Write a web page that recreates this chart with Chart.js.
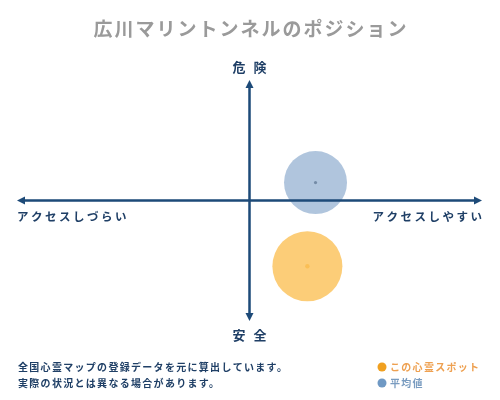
<!DOCTYPE html>
<html lang="ja">
<head>
<meta charset="utf-8">
<title>広川マリントンネルのポジション</title>
<script src="https://cdn.jsdelivr.net/npm/chart.js@4/dist/chart.umd.min.js"></script>
<style>
  html, body { margin: 0; padding: 0; background: #ffffff; }
  #wrap { width: 500px; height: 400px; }
</style>
</head>
<body>
<div id="wrap"><canvas id="positionChart" width="500" height="400"></canvas></div>
<script>
// ── Data ───────────────────────────────────────────────────────────────────
const TITLE = "広川マリントンネルのポジション";
const AXIS_LABELS = ["危険", "安全", "アクセスしづらい", "アクセスしやすい"];
const SERIES_NAMES = ["この心霊スポット", "平均値"];
const SPOT_X = [24.9];
const SPOT_Y = [-54.6];
const SPOT_R = [35];
const AVG_X = [28.4];
const AVG_Y = [14.9];
const AVG_R = [31.5];
const NOTES = [
  "全国心霊マップの登録データを元に算出しています。",
  "実際の状況とは異なる場合があります。",
];

// ── Theme ──────────────────────────────────────────────────────────────────
const FONT = "'Noto Sans CJK JP', 'Noto Sans', sans-serif";
const COLORS = {
  axis:      "#1d4a78",
  title:     "#9a9a9a",
  label:     "#1f3f66",
  spot:      "rgba(252, 196, 96, 0.85)",
  spotDot:   "#f0a020",
  spotText:  "#eea050",
  avg:       "rgba(150, 178, 210, 0.75)",
  avgDot:    "#111c28",
  avgText:   "#7a9cc0",
};

function toPoints(xs, ys, rs) {
  return xs.map((x, i) => ({ x, y: ys[i], r: rs[i] }));
}

function spacedText(ctx, text, x, y, spacing, align) {
  ctx.save();
  if ("letterSpacing" in ctx) {
    ctx.letterSpacing = spacing + "px";
    let w = ctx.measureText(text).width - spacing;
    let sx = align === "center" ? x - w / 2 : align === "right" ? x - w : x;
    ctx.textAlign = "left";
    ctx.fillText(text, sx, y);
  } else {
    ctx.textAlign = align;
    ctx.fillText(text, x, y);
  }
  ctx.restore();
}

// ── Axes with arrows ───────────────────────────────────────────────────────
const quadrantAxes = {
  id: "quadrantAxes",
  afterDatasetsDraw(chart) {
    const { ctx, chartArea, scales } = chart;
    const cx = scales.x.getPixelForValue(0);
    const cy = scales.y.getPixelForValue(0);
    const head = 8, half = 4;
    ctx.save();
    ctx.strokeStyle = COLORS.axis;
    ctx.fillStyle = COLORS.axis;
    ctx.lineWidth = 2.5;
    ctx.beginPath();
    ctx.moveTo(chartArea.left + 3, cy);
    ctx.lineTo(chartArea.right - 3, cy);
    ctx.moveTo(cx, chartArea.top + 3);
    ctx.lineTo(cx, chartArea.bottom - 3);
    ctx.stroke();
    const tri = (a, b, c) => {
      ctx.beginPath();
      ctx.moveTo(a[0], a[1]); ctx.lineTo(b[0], b[1]); ctx.lineTo(c[0], c[1]);
      ctx.closePath(); ctx.fill();
    };
    tri([chartArea.left, cy], [chartArea.left + head, cy - half], [chartArea.left + head, cy + half]);
    tri([chartArea.right, cy], [chartArea.right - head, cy - half], [chartArea.right - head, cy + half]);
    tri([cx, chartArea.top], [cx - half, chartArea.top + head], [cx + half, chartArea.top + head]);
    tri([cx, chartArea.bottom], [cx - half, chartArea.bottom - head], [cx + half, chartArea.bottom - head]);
    ctx.restore();
  },
  afterDraw(chart) {
    const { ctx, chartArea, scales } = chart;
    const cx = scales.x.getPixelForValue(0);
    const cy = scales.y.getPixelForValue(0);
    ctx.save();
    ctx.textBaseline = "middle";

    // title
    ctx.fillStyle = COLORS.title;
    ctx.font = "bold 19px " + FONT;
    spacedText(ctx, TITLE, 250, 29, 2, "center");

    // axis captions
    ctx.fillStyle = COLORS.label;
    ctx.font = "bold 13px " + FONT;
    spacedText(ctx, AXIS_LABELS[0], cx, chartArea.top - 13, 8, "center");
    spacedText(ctx, AXIS_LABELS[1], cx, chartArea.bottom + 14, 8, "center");
    ctx.font = "bold 11.5px " + FONT;
    spacedText(ctx, AXIS_LABELS[2], chartArea.left, cy + 16, 2.5, "left");
    spacedText(ctx, AXIS_LABELS[3], chartArea.right, cy + 16, 2.5, "right");

    // footnotes
    ctx.font = "bold 10px " + FONT;
    spacedText(ctx, NOTES[0], 18, 367, 1.3, "left");
    spacedText(ctx, NOTES[1], 18, 383, 1.3, "left");

    // legend
    const legend = [
      [SERIES_NAMES[0], COLORS.spotDot, COLORS.spotText, 367],
      [SERIES_NAMES[1], "#6f99c4", COLORS.avgText, 383],
    ];
    legend.forEach(([name, dot, txt, y]) => {
      ctx.fillStyle = dot;
      ctx.beginPath();
      ctx.arc(382, y, 4.5, 0, Math.PI * 2);
      ctx.fill();
      ctx.fillStyle = txt;
      ctx.font = "bold 10px " + FONT;
      spacedText(ctx, name, 390, y, 1.3, "left");
    });
    ctx.restore();
  },
};

// ── Chart ──────────────────────────────────────────────────────────────────
new Chart(document.getElementById("positionChart"), {
  type: "bubble",
  data: {
    datasets: [
      {
        label: SERIES_NAMES[1],
        data: toPoints(AVG_X, AVG_Y, AVG_R),
        backgroundColor: COLORS.avg,
        borderWidth: 0,
      },
      {
        label: SERIES_NAMES[0],
        data: toPoints(SPOT_X, SPOT_Y, SPOT_R),
        backgroundColor: COLORS.spot,
        borderWidth: 0,
      },
      {
        label: "avg-center",
        data: toPoints(AVG_X, AVG_Y, [1.6]),
        backgroundColor: COLORS.avgDot,
        borderWidth: 0,
      },
      {
        label: "spot-center",
        data: toPoints(SPOT_X, SPOT_Y, [2.2]),
        backgroundColor: COLORS.spotDot,
        borderWidth: 0,
      },
    ],
  },
  options: {
    responsive: false,
    animation: false,
    layout: { autoPadding: false, padding: { left: 17, right: 18, top: 80, bottom: 79 } },
    scales: {
      x: { type: "linear", min: -100, max: 100, display: false },
      y: { type: "linear", min: -100, max: 100, display: false },
    },
    plugins: {
      legend: { display: false },
      tooltip: { enabled: false },
    },
  },
  plugins: [quadrantAxes],
});
</script>
</body>
</html>
